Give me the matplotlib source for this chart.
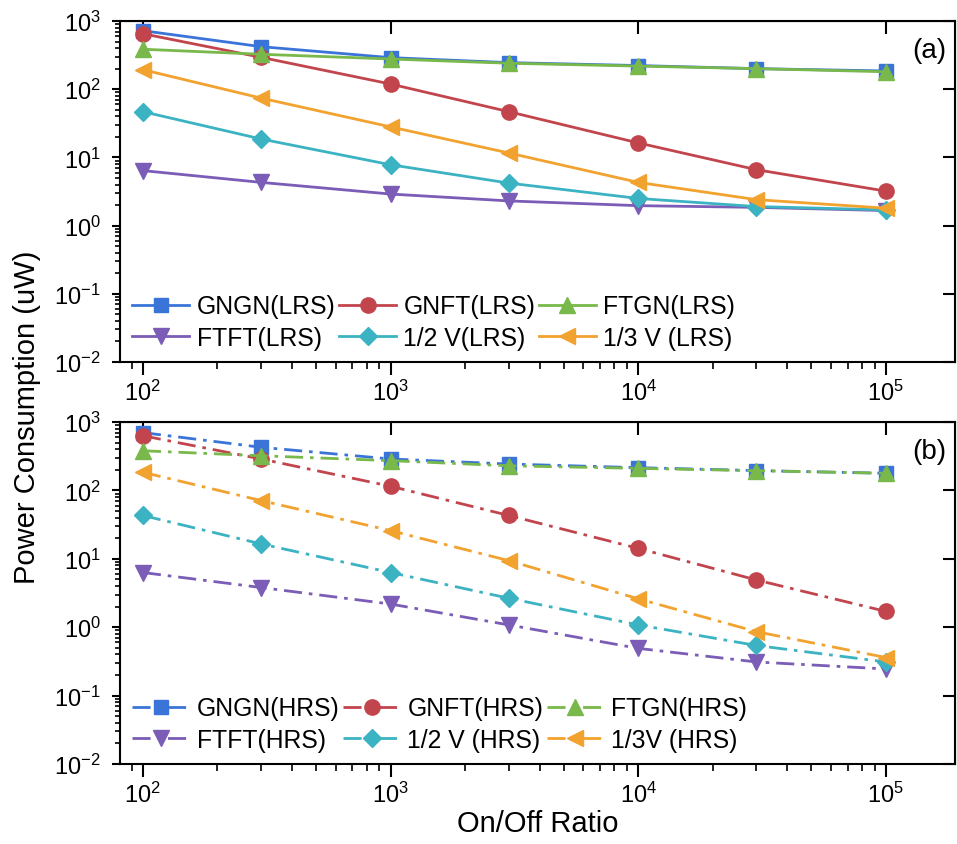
import matplotlib.pyplot as plt
import matplotlib
from matplotlib.ticker import NullLocator, LogLocator

matplotlib.rc('font', family=['Liberation Sans', 'DejaVu Sans'])
matplotlib.rc('mathtext', default='regular')

ratio = [1e2, 3e2, 1e3, 3e3, 1e4, 3e4, 1e5]

# (a) LRS
gngn_lrs = [720, 420, 290, 245, 222, 200, 185]
gnft_lrs = [650, 293, 119, 46.8, 16.3, 6.6, 3.2]
ftgn_lrs = [385, 325, 277, 240, 218, 200, 180]
ftft_lrs = [6.4, 4.3, 2.9, 2.3, 1.96, 1.85, 1.66]
half_lrs = [46.8, 18.6, 7.8, 4.2, 2.5, 1.9, 1.7]
third_lrs = [193, 74, 28, 11.6, 4.3, 2.4, 1.8]

# (b) HRS
gngn_hrs = [700, 427, 288, 243, 215, 195, 178]
gnft_hrs = [630, 288, 115, 43, 14.2, 4.9, 1.7]
ftgn_hrs = [380, 321, 272, 229, 210, 194, 178]
ftft_hrs = [6.3, 3.8, 2.18, 1.08, 0.49, 0.31, 0.245]
half_hrs = [43, 16.5, 6.3, 2.65, 1.08, 0.54, 0.31]
third_hrs = [184, 71, 25.8, 9.4, 2.6, 0.86, 0.36]

colors = ['#3b74d8', '#c2454d', '#79b84a', '#7b5cb6', '#3cb3c2', '#f2a22e']
markers = ['s', 'o', '^', 'v', 'D', '<']
msizes = [10, 11, 11, 11, 9, 11]

lrs = [gngn_lrs, gnft_lrs, ftgn_lrs, ftft_lrs, half_lrs, third_lrs]
hrs = [gngn_hrs, gnft_hrs, ftgn_hrs, ftft_hrs, half_hrs, third_hrs]
lrs_names = ['GNGN(LRS)', 'GNFT(LRS)', 'FTGN(LRS)', 'FTFT(LRS)', '1/2 V(LRS)', '1/3 V (LRS)']
hrs_names = ['GNGN(HRS)', 'GNFT(HRS)', 'FTGN(HRS)', 'FTFT(HRS)', '1/2 V (HRS)', '1/3V (HRS)']

fig = plt.figure(figsize=(9.57, 8.45), dpi=100)
ax1 = fig.add_axes([0.1254, 0.5704, 0.8725, 0.4036])
ax2 = fig.add_axes([0.1254, 0.0947, 0.8725, 0.4047])

dashdot = (0, (6.5, 2.5, 1.3, 2.5))


def draw(ax, data, names, ls, tag):
    handles = []
    for d, n, c, m, ms in zip(data, names, colors, markers, msizes):
        h, = ax.plot(ratio, d, color=c, marker=m, markersize=ms, lw=2, ls=ls,
                     label=n)
        handles.append(h)
    ax.set_xscale('log')
    ax.set_yscale('log')
    ax.set_xlim(80.8, 1.9e5)
    ax.set_ylim(1e-2, 1e3)
    ax.yaxis.set_major_locator(LogLocator(base=10, numticks=10))
    ax.yaxis.set_minor_locator(LogLocator(base=10, subs=range(2, 10), numticks=20))
    ax.tick_params(which='both', direction='out', top=False, right=False,
                   width=1.5, labelsize=17)
    ax.tick_params(axis='x', which='major', length=9, pad=4)
    ax.tick_params(axis='x', which='minor', length=5, width=1.2)
    ax.tick_params(axis='y', which='major', length=6, pad=8)
    ax.tick_params(axis='y', which='minor', length=3.5, width=1.2)
    for s in ax.spines.values():
        s.set_linewidth(1.5)
    # mirrored major ticks pointing inward
    top = ax.secondary_xaxis('top')
    top.xaxis.set_minor_locator(NullLocator())
    top.tick_params(direction='in', length=9, width=1.5, labeltop=False)
    right = ax.secondary_yaxis('right')
    right.yaxis.set_minor_locator(NullLocator())
    right.tick_params(direction='in', length=9, width=1.5, labelright=False)
    order = [0, 3, 1, 4, 2, 5]
    ax.legend([handles[i] for i in order], [names[i] for i in order], ncol=3,
              loc='lower left', frameon=False, fontsize=17.8, handlelength=2.3,
              columnspacing=0.15, handletextpad=0.3, labelspacing=0.3,
              borderaxespad=0.1, bbox_to_anchor=(0.0, 0.0))
    ax.text(0.99, 0.915, tag, transform=ax.transAxes, ha='right', va='center',
            fontsize=20)


draw(ax1, lrs, lrs_names, '-', '(a)')
draw(ax2, hrs, hrs_names, dashdot, '(b)')

ax2.set_xlabel('On/Off Ratio', fontsize=21, labelpad=1)
fig.text(0.028, 0.506, 'Power Consumption (uW)', rotation=90, ha='center',
         va='center', fontsize=21)

fig.savefig('out.png', dpi=100)
